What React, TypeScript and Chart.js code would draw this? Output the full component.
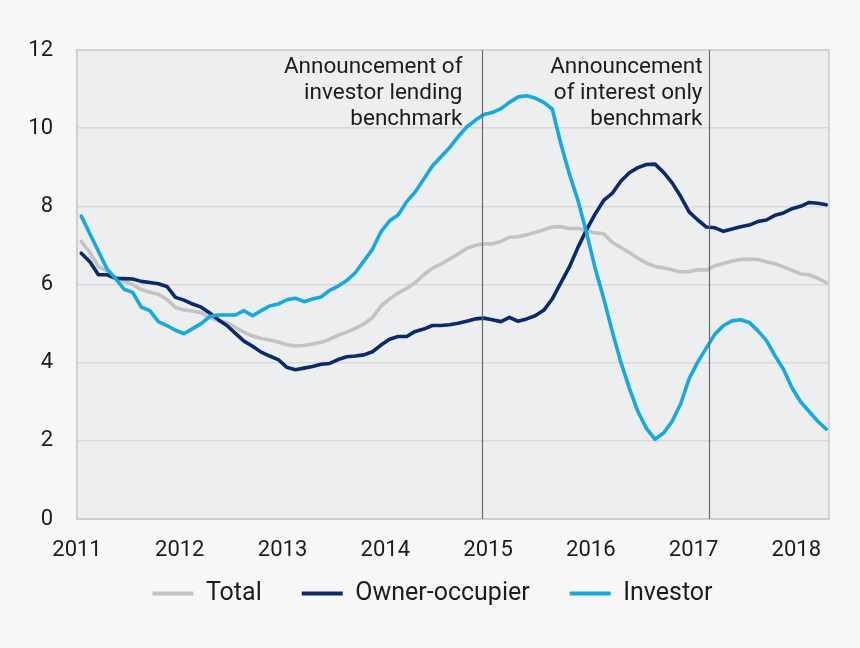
import { useEffect, useRef } from "react";
import { Chart, registerables } from "chart.js";

Chart.register(...registerables);

// ---- Data (monthly, Jan 2011 – Apr 2018), per cent ----
const START_YEAR = 2011;
const yearTicks = [2011, 2012, 2013, 2014, 2015, 2016, 2017, 2018];
const seriesNames = ["Total", "Owner-occupier", "Investor"];

const totalValues = [
  7.1, 6.82, 6.46, 6.35, 6.18, 6.08, 6.0, 5.87, 5.8, 5.75, 5.62, 5.41,
  5.35, 5.32, 5.28, 5.15, 5.08, 5.03, 4.9, 4.78, 4.68, 4.62, 4.58, 4.53,
  4.46, 4.43, 4.44, 4.48, 4.52, 4.6, 4.7, 4.78, 4.88, 4.99, 5.15, 5.45,
  5.63, 5.78, 5.9, 6.05, 6.25, 6.42, 6.52, 6.65, 6.78, 6.92, 7.0, 7.04,
  7.04, 7.1, 7.21, 7.22, 7.27, 7.33, 7.4, 7.47, 7.48, 7.43, 7.44, 7.38,
  7.32, 7.3, 7.08, 6.95, 6.82, 6.67, 6.55, 6.46, 6.42, 6.38, 6.32, 6.33,
  6.38, 6.37, 6.48, 6.54, 6.6, 6.64, 6.65, 6.64, 6.58, 6.53, 6.45, 6.36,
  6.27, 6.25, 6.16, 6.05,
];

const ownerValues = [
  6.8, 6.58, 6.25, 6.25, 6.16, 6.15, 6.14, 6.08, 6.05, 6.02, 5.95, 5.67,
  5.6, 5.5, 5.42, 5.27, 5.1, 4.95, 4.75, 4.55, 4.42, 4.27, 4.17, 4.08,
  3.88, 3.82, 3.86, 3.9, 3.96, 3.98, 4.08, 4.15, 4.17, 4.2, 4.28, 4.45,
  4.6, 4.67, 4.67, 4.8, 4.86, 4.95, 4.95, 4.97, 5.01, 5.06, 5.12, 5.14,
  5.1, 5.05, 5.16, 5.06, 5.12, 5.2, 5.34, 5.63, 6.04, 6.45, 6.95, 7.4,
  7.8, 8.15, 8.33, 8.64, 8.86, 8.99, 9.07, 9.08, 8.87, 8.6, 8.25, 7.85,
  7.65, 7.47, 7.45, 7.36, 7.42, 7.48, 7.52, 7.61, 7.65, 7.77, 7.83, 7.94,
  8.0, 8.1, 8.08, 8.04,
];

const investorValues = [
  7.75, 7.3, 6.85, 6.4, 6.15, 5.88, 5.8, 5.42, 5.33, 5.05, 4.95, 4.83,
  4.74, 4.87, 5.0, 5.18, 5.22, 5.22, 5.22, 5.33, 5.2, 5.33, 5.45, 5.5,
  5.61, 5.65, 5.56, 5.63, 5.68, 5.85, 5.96, 6.1, 6.3, 6.6, 6.9, 7.35,
  7.63, 7.78, 8.12, 8.37, 8.7, 9.03, 9.27, 9.5, 9.78, 10.03, 10.2, 10.35,
  10.4, 10.5, 10.66, 10.8, 10.83, 10.77, 10.66, 10.49, 9.6, 8.83, 8.15, 7.33,
  6.42, 5.65, 4.8, 4.02, 3.35, 2.75, 2.32, 2.04, 2.2, 2.5, 2.95, 3.6,
  4.02, 4.38, 4.73, 4.95, 5.07, 5.1, 5.03, 4.82, 4.57, 4.18, 3.83, 3.35,
  3.0, 2.75, 2.5, 2.3,
];

// Announcement dates (decimal years) and their labels
const announcementDates = [2014.94, 2017.15];
const announcementLabels = [
  ["Announcement of", "investor lending", "benchmark"],
  ["Announcement", "of interest only", "benchmark"],
];

const X_MAX = 2018.318;
const FONT = "Roboto, 'Noto Sans', sans-serif";
const TEXT = "#1c1c1c";
const COLORS = ["#c3c3c3", "#0b2a6a", "#16a8e0"];

function toPoints(values: number[]) {
  // monthly observations, placed mid-month
  return values.map((v, i) => ({ x: START_YEAR + (i + 0.5) / 12, y: v }));
}

const plotBackground = {
  id: "plotBackground",
  beforeDraw(chart: any) {
    const { ctx, chartArea: a } = chart;
    ctx.save();
    ctx.fillStyle = "#edeef0";
    ctx.fillRect(a.left, a.top, a.right - a.left, a.bottom - a.top);
    ctx.restore();
  },
  afterLayout(chart: any) {
    // widen the label clip areas so tick labels are not cut off
    const xs = chart.scales.x;
    if (xs) xs.bottom = xs.top + 60;
    const ys = chart.scales.y;
    if (ys) ys.left = 0;
  },
  afterDatasetsDraw(chart: any) {
    const { ctx, chartArea: a } = chart;
    ctx.save();
    ctx.strokeStyle = "#cdcdcd";
    ctx.lineWidth = 1.5;
    ctx.strokeRect(a.left, a.top, a.right - a.left, a.bottom - a.top);
    ctx.restore();
  },
};

const announcements = {
  id: "announcements",
  afterDatasetsDraw(chart: any) {
    const { ctx, chartArea: a } = chart;
    const xs = chart.scales.x;
    const gaps = [20, 7];
    ctx.save();
    announcementDates.forEach((d, k) => {
      const px = Math.round(xs.getPixelForValue(d)) + 0.5;
      ctx.strokeStyle = "#6a6a6a";
      ctx.lineWidth = 1.2;
      ctx.beginPath();
      ctx.moveTo(px, a.top);
      ctx.lineTo(px, a.bottom);
      ctx.stroke();
      ctx.fillStyle = TEXT;
      ctx.font = `22.5px ${FONT}`;
      ctx.textAlign = "right";
      ctx.textBaseline = "middle";
      announcementLabels[k].forEach((line, j) => {
        ctx.fillText(line, px - gaps[k], a.top + 17 + j * 26);
      });
    });
    ctx.restore();
  },
};

export default function App() {
  const ref = useRef<HTMLCanvasElement | null>(null);

  useEffect(() => {
    if (!ref.current) return;
    const valueSets = [totalValues, ownerValues, investorValues];
    const chart = new Chart(ref.current, {
      type: "line",
      data: {
        datasets: seriesNames.map((name, i) => ({
          label: name,
          data: toPoints(valueSets[i]),
          borderColor: COLORS[i],
          backgroundColor: COLORS[i],
          borderWidth: 3.6,
          pointRadius: 0,
          tension: 0,
          fill: false,
          borderJoinStyle: "round" as const,
          borderCapStyle: "round" as const,
          order: 3 - i,
        })),
      },
      options: {
        animation: false,
        responsive: false,
        devicePixelRatio: 1,
        layout: { padding: { left: 36, right: 31, top: 50, bottom: 32 } },
        scales: {
          x: {
            type: "linear",
            min: START_YEAR,
            max: X_MAX,
            afterFit: (s: any) => {
              s.height = 22;
            },
            afterBuildTicks: (s: any) => {
              s.ticks = yearTicks.map((v) => ({ value: v }));
            },
            ticks: {
              padding: 18,
              color: TEXT,
              font: { family: FONT, size: 22 },
              callback: (v: any) => String(v),
              maxRotation: 0,
              autoSkip: false,
            },
            grid: { display: false, drawTicks: false },
            border: { display: true, color: "#cdcdcd", width: 1.5 },
          },
          y: {
            min: 0,
            max: 12,
            afterFit: (s: any) => {
              s.width = 41;
            },
            ticks: {
              stepSize: 2,
              padding: 24,
              color: TEXT,
              font: { family: FONT, size: 22 },
            },
            grid: { color: "#d9d9db", lineWidth: 1.5, drawTicks: false },
            border: { display: true, color: "#cdcdcd", width: 1.5 },
          },
        },
        plugins: {
          tooltip: { enabled: false },
          legend: {
            position: "bottom",
            labels: {
              color: TEXT,
              font: { family: FONT, size: 25 },
              boxWidth: 41,
              boxHeight: 4,
              padding: 40,
              sort: (a: any, b: any) => a.datasetIndex - b.datasetIndex,
              generateLabels: (c: any) =>
                Chart.defaults.plugins.legend.labels
                  .generateLabels(c)
                  .map((it: any) => ({ ...it, lineWidth: 0, fillStyle: it.strokeStyle })),
            },
          },
        },
      },
      plugins: [plotBackground, announcements],
    } as any);
    return () => chart.destroy();
  }, []);

  return (
    <div
      style={{
        position: "absolute",
        left: 0,
        top: 0,
        width: 860,
        height: 648,
        background: "#f7f7f7",
      }}
    >
      <canvas ref={ref} width={860} height={648} style={{ width: 860, height: 648 }} />
    </div>
  );
}
